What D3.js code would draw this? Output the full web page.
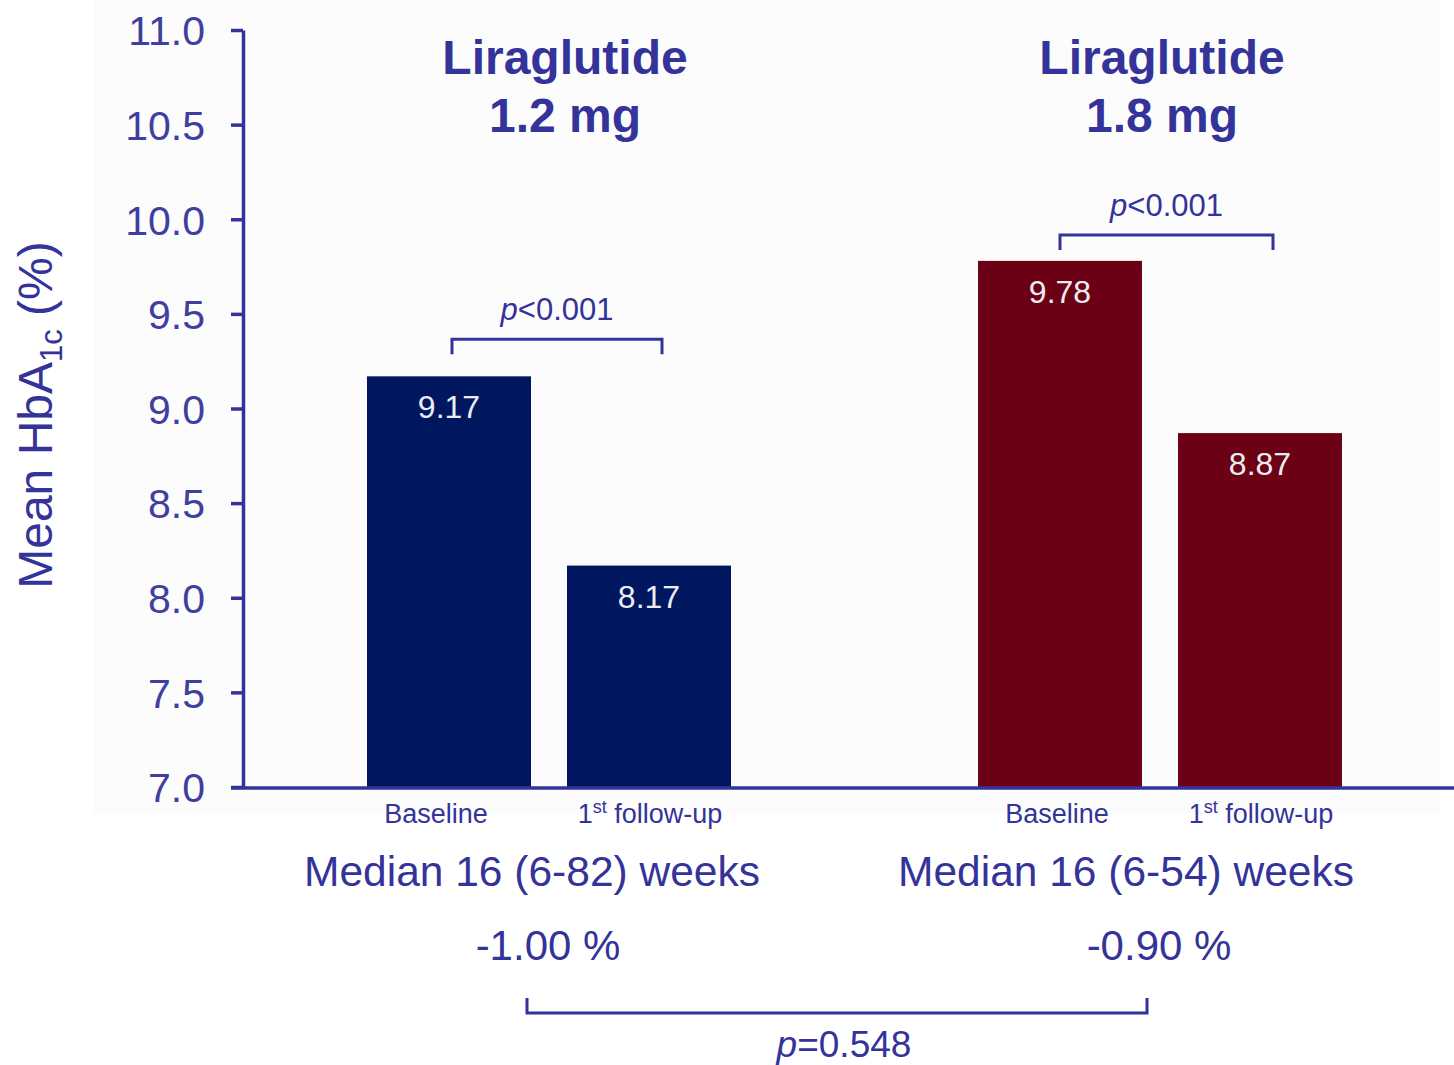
<!DOCTYPE html>
<html>
<head>
<meta charset="utf-8">
<script src="https://cdn.jsdelivr.net/npm/d3@7"></script>
<style>
  html, body { margin: 0; padding: 0; background: #ffffff; }
  svg { display: block; font-family: Arial, "Liberation Sans", sans-serif; }
</style>
</head>
<body>
<svg id="chart" width="1454" height="1065"></svg>
<script>
// Dose groups and the two time points measured in each
const groups = ["Liraglutide 1.2 mg", "Liraglutide 1.8 mg"];
const groupTitles = [["Liraglutide", "1.2 mg"], ["Liraglutide", "1.8 mg"]];
const timepoints = ["Baseline", "1st follow-up"];

// Mean HbA1c (%) per group: [baseline, 1st follow-up]
const baselineValues = [9.17, 9.78];
const followupValues = [8.17, 8.87];

// Follow-up duration, change from baseline and p-values
const followupWeeks = ["Median 16 (6-82) weeks", "Median 16 (6-54) weeks"];
const changeLabels = ["-1.00 %", "-0.90 %"];
const withinGroupP = ["<0.001", "<0.001"];
const betweenGroupP = "=0.548";

// Y axis ticks
const yTicks = [7.0, 7.5, 8.0, 8.5, 9.0, 9.5, 10.0, 10.5, 11.0];

const barColors = ["#00175f", "#6c0015"];
const ink = "#333399";

// per-group horizontal nudges for the annotation texts
const titleShift = [16, 2];
const weeksShift = [-17, -34];
const baselineLabelShift = [-13, -3];

const svg = d3.select("#chart");

// faint panel behind the plot
svg.append("rect")
  .attr("x", 94).attr("y", 0).attr("width", 1346).attr("height", 814)
  .attr("fill", "#fcfcfd");

const y = d3.scaleLinear().domain([7, 11]).range([787, 30]);

const x0 = d3.scaleBand().domain(groups).range([243.5, 1465.5]).padding(0);
const x1 = d3.scaleBand().domain(timepoints)
  .range([0, x0.bandwidth()])
  .paddingInner(0.18).paddingOuter(0.6175);

const data = groups.map((g, i) => ({
  group: g,
  idx: i,
  values: [
    { t: timepoints[0], v: baselineValues[i], idx: i },
    { t: timepoints[1], v: followupValues[i], idx: i }
  ]
}));

// Y axis
const yAxis = d3.axisLeft(y)
  .tickValues(yTicks)
  .tickFormat(d3.format(".1f"))
  .tickSize(12)
  .tickSizeOuter(0)
  .tickPadding(26);

const gy = svg.append("g")
  .attr("transform", "translate(243,0)")
  .call(yAxis);
gy.select(".domain").attr("stroke", ink).attr("stroke-width", 3.5);
gy.selectAll(".tick line").attr("stroke", ink).attr("stroke-width", 3.5);
gy.selectAll(".tick text")
  .attr("fill", "#3f3f9f")
  .attr("font-size", 41)
  .attr("font-family", "Arial, 'Liberation Sans', sans-serif")
  .attr("dy", "0.36em");

// Y axis title
const yTitle = svg.append("text")
  .attr("transform", "translate(52,415) rotate(-90)")
  .attr("text-anchor", "middle")
  .attr("fill", ink)
  .attr("font-size", 48);
yTitle.append("tspan").text("Mean HbA");
yTitle.append("tspan").attr("font-size", 31).attr("dy", 10).text("1c");
yTitle.append("tspan").attr("dy", -10).text(" (%)");

// Bars
const gGroups = svg.selectAll("g.group")
  .data(data)
  .join("g")
  .attr("class", "group")
  .attr("transform", d => `translate(${x0(d.group)},0)`);

gGroups.selectAll("rect.bar")
  .data(d => d.values)
  .join("rect")
  .attr("class", "bar")
  .attr("x", d => x1(d.t))
  .attr("width", x1.bandwidth())
  .attr("y", d => y(d.v))
  .attr("height", d => y(7) - y(d.v))
  .attr("fill", d => barColors[d.idx]);

// Value labels inside bars
gGroups.selectAll("text.val")
  .data(d => d.values)
  .join("text")
  .attr("class", "val")
  .attr("x", d => x1(d.t) + x1.bandwidth() / 2)
  .attr("y", d => y(d.v) + 42)
  .attr("text-anchor", "middle")
  .attr("fill", "#ececf2")
  .attr("font-size", 32)
  .text(d => d.v.toFixed(2));

// X axis baseline
svg.append("line")
  .attr("x1", 231).attr("x2", 1454)
  .attr("y1", y(7) + 1).attr("y2", y(7) + 1)
  .attr("stroke", ink).attr("stroke-width", 3.5);

// Timepoint labels under bars
gGroups.selectAll("text.cat")
  .data(d => d.values)
  .join("text")
  .attr("class", "cat")
  .attr("x", d => x1(d.t) + x1.bandwidth() / 2 + (d.t === "Baseline" ? baselineLabelShift[d.idx] : 1))
  .attr("y", 823)
  .attr("text-anchor", "middle")
  .attr("fill", ink)
  .attr("font-size", 27)
  .each(function(d) {
    const t = d3.select(this);
    if (d.t === "1st follow-up") {
      t.append("tspan").text("1");
      t.append("tspan").attr("font-size", 18).attr("dy", -10).text("st");
      t.append("tspan").attr("dy", 10).text(" follow-up");
    } else {
      t.text(d.t);
    }
  });

// Group titles
gGroups.each(function(d, i) {
  const cx = x0.bandwidth() / 2 + titleShift[i];
  const g = d3.select(this);
  groupTitles[i].forEach((line, k) => {
    g.append("text")
      .attr("x", cx)
      .attr("y", 74 + k * 58)
      .attr("text-anchor", "middle")
      .attr("fill", ink)
      .attr("font-weight", "bold")
      .attr("font-size", 48)
      .text(line);
  });
});

// Within-group brackets with p-values
const bracketGap = [37, 26];
gGroups.each(function(d, i) {
  const g = d3.select(this);
  const xa = x1(timepoints[0]) + x1.bandwidth() / 2 + 3 - i * 3;
  const xb = x1(timepoints[1]) + x1.bandwidth() / 2 + 13;
  const top = y(d3.max(d.values, v => v.v)) - bracketGap[i];
  g.append("path")
    .attr("d", `M${xa},${top + 15}V${top}H${xb}V${top + 15}`)
    .attr("fill", "none")
    .attr("stroke", ink)
    .attr("stroke-width", 3);
  const t = g.append("text")
    .attr("x", (xa + xb) / 2)
    .attr("y", top - 19)
    .attr("text-anchor", "middle")
    .attr("fill", ink)
    .attr("font-size", 31);
  t.append("tspan").attr("font-style", "italic").text("p");
  t.append("tspan").text(withinGroupP[i]);
});

// Follow-up duration and change in HbA1c
gGroups.each(function(d, i) {
  const g = d3.select(this);
  const cx = x0.bandwidth() / 2;
  g.append("text")
    .attr("x", cx + weeksShift[i])
    .attr("y", 886)
    .attr("text-anchor", "middle")
    .attr("fill", ink)
    .attr("font-size", 42.5)
    .text(followupWeeks[i]);
  g.append("text")
    .attr("x", cx - 1)
    .attr("y", 960)
    .attr("text-anchor", "middle")
    .attr("fill", ink)
    .attr("font-size", 42)
    .text(changeLabels[i]);
});

// Between-group bracket
const bxA = x0(groups[0]) + x0.bandwidth() / 2 - 22;
const bxB = x0(groups[1]) + x0.bandwidth() / 2 - 13;
svg.append("path")
  .attr("d", `M${bxA},998V1013H${bxB}V998`)
  .attr("fill", "none")
  .attr("stroke", ink)
  .attr("stroke-width", 3);
const pb = svg.append("text")
  .attr("x", (bxA + bxB) / 2 + 7)
  .attr("y", 1057)
  .attr("text-anchor", "middle")
  .attr("fill", ink)
  .attr("font-size", 37);
pb.append("tspan").attr("font-style", "italic").text("p");
pb.append("tspan").text(betweenGroupP);
</script>
</body>
</html>
